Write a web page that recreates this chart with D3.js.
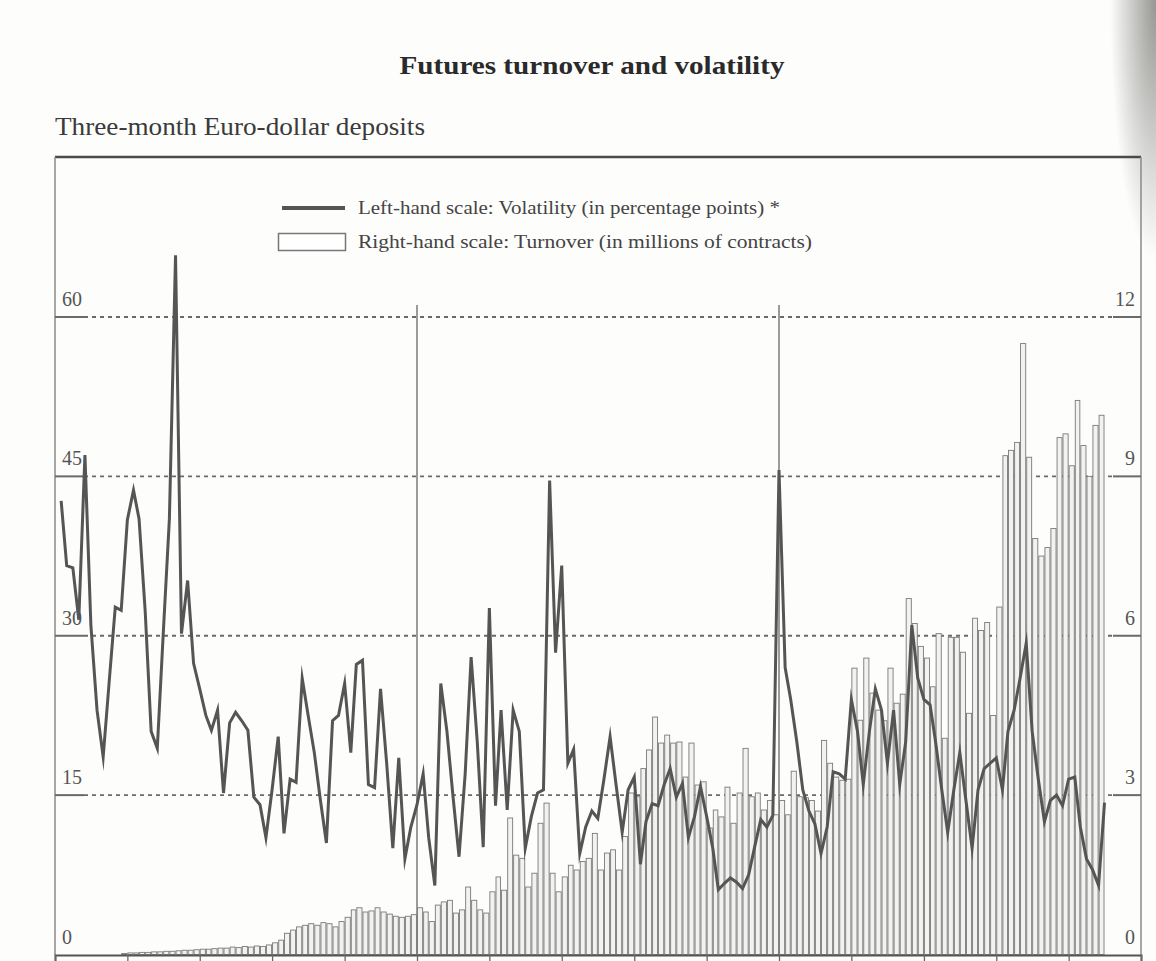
<!DOCTYPE html>
<html>
<head>
<meta charset="utf-8">
<script src="https://cdn.jsdelivr.net/npm/d3@7/dist/d3.min.js"></script>
<style>
  html, body { margin: 0; padding: 0; background: #fdfdfc; }
  svg { display: block; }
  text { font-family: "Liberation Serif", "DejaVu Serif", serif; fill: #333; }
</style>
</head>
<body>
<svg id="chart" width="1156" height="961"></svg>
<script>
// Monthly data, January 1981 to June 1995
const startMonth = new Date(1981, 0, 1);
const endMonth = new Date(1995, 6, 1);

// Volatility of three-month Euro-dollar futures (percentage points, left scale)
const volatility = [
  42.7, 36.6, 36.4, 31.5, 47.0, 31.0, 23.0, 18.6, 25.6, 32.7, 32.4, 40.9,
  43.7, 41.0, 32.3, 21.0, 19.4, 30.2, 41.0, 65.8, 30.2, 35.2, 27.4, 25.0,
  22.5, 21.1, 23.0, 15.2, 21.8, 22.8, 22.0, 21.1, 14.8, 14.1, 11.0, 15.5,
  20.5, 11.4, 16.5, 16.2, 26.0, 22.5, 19.0, 14.5, 10.5, 22.0, 22.5, 25.5,
  19.0, 27.3, 27.7, 16.0, 15.7, 25.0, 18.0, 10.0, 18.5, 9.0, 12.0, 14.1,
  17.0, 11.0, 6.5, 25.5, 21.0, 15.0, 9.2, 17.0, 28.0, 20.0, 10.1, 32.6,
  14.0, 23.0, 13.6, 23.0, 21.0, 10.0, 13.0, 15.2, 15.5, 44.6, 28.4, 36.6,
  18.0, 19.3, 9.5, 12.0, 13.5, 12.8, 16.5, 20.5, 16.0, 11.5, 15.5, 16.7,
  8.5, 12.5, 14.2, 14.0, 16.0, 17.5, 14.8, 16.1, 11.0, 13.0, 15.8, 13.0,
  10.0, 6.1, 6.7, 7.2, 6.8, 6.2, 7.5, 10.2, 12.7, 12.0, 13.1, 45.6,
  27.0, 24.0, 20.0, 15.5, 13.5, 12.3, 9.5, 12.0, 17.2, 17.0, 16.5, 24.0,
  21.0, 16.0, 21.0, 25.0, 23.0, 18.0, 23.0, 16.0, 20.0, 31.0, 26.0, 24.0,
  23.5, 20.0, 15.5, 11.5, 15.5, 19.0, 14.5, 10.0, 15.5, 17.5, 18.0, 18.5,
  15.5, 21.0, 23.0, 26.0, 29.3, 21.0, 16.5, 12.5, 14.5, 15.0, 14.0, 16.5,
  16.7, 12.0, 9.0, 8.0, 6.5, 14.3
];

// Turnover (millions of contracts, right scale)
const turnover = [
  0, 0, 0, 0, 0, 0, 0, 0, 0, 0, 0, 0.02,
  0.03, 0.03, 0.04, 0.04, 0.05, 0.05, 0.06, 0.06, 0.07, 0.08, 0.08, 0.09,
  0.10, 0.10, 0.11, 0.12, 0.12, 0.14, 0.13, 0.15, 0.14, 0.16, 0.15, 0.18,
  0.22, 0.27, 0.40, 0.46, 0.52, 0.55, 0.58, 0.55, 0.60, 0.58, 0.52, 0.62,
  0.70, 0.84, 0.88, 0.80, 0.82, 0.88, 0.80, 0.76, 0.72, 0.70, 0.72, 0.75,
  0.88, 0.80, 0.62, 0.93, 0.99, 1.02, 0.78, 0.84, 1.27, 1.02, 0.84, 0.78,
  1.18, 1.46, 1.21, 2.57, 1.87, 1.81, 1.27, 1.53, 2.47, 2.85, 1.53, 1.18,
  1.46, 1.68, 1.59, 1.75, 1.81, 2.28, 1.59, 1.91, 1.97, 1.59, 2.22, 3.04,
  2.97, 3.50, 3.85, 4.47, 3.98, 4.13, 3.98, 4.00, 3.34, 3.98, 3.19, 3.25,
  2.38, 2.72, 2.59, 3.15, 2.47, 3.04, 3.88, 2.97, 3.04, 2.72, 2.90, 2.63,
  2.90, 2.63, 3.45, 2.97, 2.95, 2.90, 2.70, 4.03, 3.60, 3.34, 3.28, 3.30,
  5.39, 4.41, 5.58, 4.92, 4.60, 4.40, 5.39, 4.73, 4.90, 6.70, 6.23, 5.80,
  5.58, 5.04, 6.04, 4.07, 5.97, 5.97, 5.69, 4.54, 6.33, 6.10, 6.25, 4.50,
  6.54, 9.39, 9.49, 9.64, 11.50, 9.36, 7.83, 7.50, 7.66, 8.02, 9.73, 9.80,
  9.20, 10.43, 9.58, 9.00, 9.96, 10.15
];

const leftTicks = [0, 15, 30, 45, 60];
const rightTicks = [0, 3, 6, 9, 12];
const markerYears = [1986, 1991];

const titleText = "Futures turnover and volatility";
const subtitleText = "Three-month Euro-dollar deposits";
const legendLine = "Left-hand scale: Volatility (in percentage points) *";
const legendBar = "Right-hand scale: Turnover (in millions of contracts)";

const months = d3.timeMonth.range(startMonth, endMonth);
const data = months.map((m, i) => ({ month: m, vol: volatility[i], turn: turnover[i] }));

const svg = d3.select("#chart");
const L = 55, R = 1141, T = 157, B = 955;

const x = d3.scaleTime()
  .domain([new Date(1981, 0, 1), new Date(1996, 0, 1)])
  .range([L, R]);
const yL = d3.scaleLinear().domain([0, 60]).range([954.5, 317]);
const yR = d3.scaleLinear().domain([0, 12]).range([954.5, 317]);

// subtle page shading in the top-right corner
const defs = svg.append("defs");
const rg = defs.append("radialGradient").attr("id", "corner")
  .attr("cx", 1).attr("cy", 0).attr("r", 1);
rg.append("stop").attr("offset", "0%").attr("stop-color", "#8a8a86").attr("stop-opacity", 0.9);
rg.append("stop").attr("offset", "100%").attr("stop-color", "#8a8a86").attr("stop-opacity", 0);
svg.append("rect").attr("x", 1110).attr("y", 0).attr("width", 46).attr("height", 260)
  .attr("fill", "url(#corner)");

// titles
svg.append("text").attr("x", 592).attr("y", 74)
  .attr("text-anchor", "middle").attr("font-size", 26).attr("font-weight", "bold")
  .attr("textLength", 385).attr("lengthAdjust", "spacingAndGlyphs")
  .style("fill", "#2a2a2a").text(titleText);
svg.append("text").attr("x", 55).attr("y", 135)
  .attr("font-size", 25)
  .attr("textLength", 370).attr("lengthAdjust", "spacingAndGlyphs")
  .style("fill", "#3a3a3a").text(subtitleText);

// frame
const frame = svg.append("g");
frame.append("line").attr("x1", L).attr("x2", R).attr("y1", T).attr("y2", T)
  .attr("stroke", "#4a4a4a").attr("stroke-width", 2.5);
frame.append("line").attr("x1", L).attr("x2", L).attr("y1", T).attr("y2", B)
  .attr("stroke", "#8a8a8a").attr("stroke-width", 1.5);
frame.append("line").attr("x1", R).attr("x2", R).attr("y1", T).attr("y2", B)
  .attr("stroke", "#8a8a8a").attr("stroke-width", 1.5);

// horizontal grid: dashed across, solid stubs at both ends
const grid = svg.append("g");
leftTicks.filter(v => v > 0).forEach(v => {
  const yy = yL(v);
  grid.append("line").attr("x1", 84).attr("x2", 1113).attr("y1", yy).attr("y2", yy)
    .attr("stroke", "#6a6a6a").attr("stroke-width", 1.8).attr("stroke-dasharray", "4,4");
  grid.append("line").attr("x1", L).attr("x2", 84).attr("y1", yy).attr("y2", yy)
    .attr("stroke", "#6a6a6a").attr("stroke-width", 2);
  grid.append("line").attr("x1", 1113).attr("x2", R).attr("y1", yy).attr("y2", yy)
    .attr("stroke", "#6a6a6a").attr("stroke-width", 2);
});

// year markers
markerYears.forEach(yr => {
  const xx = x(new Date(yr, 0, 1));
  svg.append("line").attr("x1", xx).attr("x2", xx).attr("y1", 305).attr("y2", B)
    .attr("stroke", "#7a7a7a").attr("stroke-width", 1.5);
});

// turnover bars
svg.append("g").selectAll("rect").data(data).join("rect")
  .attr("x", d => x(d.month) + 0.5)
  .attr("width", d => x(d3.timeMonth.offset(d.month, 1)) - x(d.month) - 1)
  .attr("y", d => yR(d.turn))
  .attr("height", d => Math.max(0, yR(0) - yR(d.turn)))
  .attr("fill", "#f2f2f0").attr("stroke", "#7a7a7a").attr("stroke-width", 0.9);

// bottom axis with yearly ticks
const xAxis = d3.axisBottom(x).ticks(d3.timeYear.every(1)).tickFormat("").tickSize(7);
const gx = svg.append("g").attr("transform", `translate(0,${B})`).call(xAxis);
gx.select(".domain").attr("stroke", "#555").attr("stroke-width", 2);
gx.selectAll(".tick line").attr("stroke", "#666").attr("stroke-width", 1.3);

// volatility line (plotted at month end)
const line = d3.line()
  .x(d => x(d3.timeMonth.offset(d.month, 1)))
  .y(d => yL(d.vol));
svg.append("path").datum(data).attr("d", line)
  .attr("fill", "none").attr("stroke", "#555").attr("stroke-width", 3)
  .attr("stroke-linejoin", "miter").attr("stroke-miterlimit", 10);

// axis labels
const labelStyle = s => s.attr("font-size", 20).style("fill", "#555");
leftTicks.forEach(v => {
  svg.append("text").attr("x", 62).attr("y", yL(v) - 11).call(labelStyle).text(v);
});
rightTicks.forEach(v => {
  svg.append("text").attr("x", 1135).attr("y", yR(v) - 11)
    .attr("text-anchor", "end").call(labelStyle).text(v);
});

// legend
const lg = svg.append("g");
lg.append("line").attr("x1", 282).attr("x2", 345).attr("y1", 208).attr("y2", 208)
  .attr("stroke", "#555").attr("stroke-width", 4);
lg.append("rect").attr("x", 278.5).attr("y", 233.5).attr("width", 67).attr("height", 17)
  .attr("fill", "#fff").attr("stroke", "#777").attr("stroke-width", 1.5);
lg.append("text").attr("x", 358).attr("y", 214).attr("font-size", 18)
  .attr("textLength", 422).attr("lengthAdjust", "spacingAndGlyphs")
  .style("fill", "#444").text(legendLine);
lg.append("text").attr("x", 358).attr("y", 248).attr("font-size", 18)
  .attr("textLength", 454).attr("lengthAdjust", "spacingAndGlyphs")
  .style("fill", "#444").text(legendBar);
</script>
</body>
</html>
